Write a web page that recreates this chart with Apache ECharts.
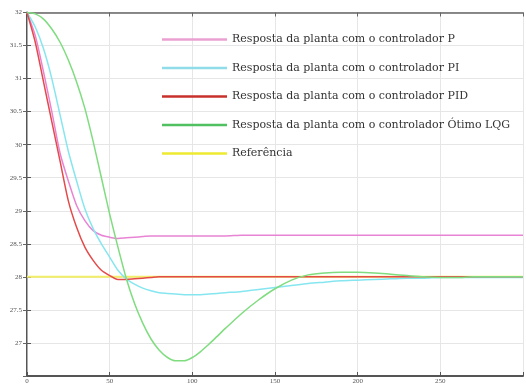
<!DOCTYPE html>
<html>
<head>
<meta charset="utf-8">
<script src="https://cdn.jsdelivr.net/npm/echarts@6/dist/echarts.min.js"></script>
<style>html,body{margin:0;padding:0;background:#fff}#c{width:526px;height:385px}</style>
</head>
<body>
<div id="c"></div>
<script>
const time = [0,5,10,15,20,25,30,35,40,45,50,55,60,65,70,75,80,85,90,95,100,105,110,115,120,130,140,150,160,170,180,190,200,210,220,230,240,250,260,270,280,290,300];
const respP   = [32,31.65,31.1,30.5,29.87,29.45,29.08,28.85,28.7,28.63,28.6,28.58,28.59,28.6,28.61,28.62,28.62,28.62,28.62,28.62,28.62,28.62,28.62,28.62,28.62,28.63,28.63,28.63,28.63,28.63,28.63,28.63,28.63,28.63,28.63,28.63,28.63,28.63,28.63,28.63,28.63,28.63,28.63];
const respPI  = [32,31.78,31.45,31.0,30.45,29.9,29.45,29.03,28.73,28.5,28.3,28.1,27.97,27.89,27.83,27.79,27.76,27.75,27.74,27.73,27.73,27.73,27.74,27.75,27.76,27.78,27.81,27.84,27.87,27.9,27.92,27.94,27.95,27.96,27.97,27.98,27.98,27.99,27.99,27.99,27.99,27.99,27.99];
const respPID = [32,31.55,30.95,30.35,29.75,29.15,28.75,28.45,28.25,28.1,28.02,27.96,27.96,27.97,27.98,27.99,28,28,28,28,28,28,28,28,28,28,28,28,28,28,28,28,28,28,28,28,28,28,28,28,28,28,28];
const respLQG = [32,31.98,31.9,31.75,31.55,31.28,30.95,30.55,30.05,29.5,28.95,28.45,27.98,27.6,27.3,27.06,26.89,26.78,26.73,26.73,26.78,26.87,26.98,27.1,27.22,27.45,27.65,27.82,27.95,28.03,28.06,28.07,28.07,28.06,28.04,28.02,28.0,27.99,27.99,28,28,28,28];
const reference = [28,28,28,28,28,28,28,28,28,28,28,28,28,28,28,28,28,28,28,28,28,28,28,28,28,28,28,28,28,28,28,28,28,28,28,28,28,28,28,28,28,28,28];
const names = ['Resposta da planta com o controlador P','Resposta da planta com o controlador PI','Resposta da planta com o controlador PID','Resposta da planta com o controlador Ótimo LQG','Referência'];
const yTicks = [26.5,27,27.5,28,28.5,29,29.5,30,30.5,31,31.5,32];
const xTicks = [0,50,100,150,200,250,300];

const pair = arr => time.map((t,i)=>[t,arr[i]]);
const colors = ['#e884d4','#86e6f0','#e44a4a','#7fdc7f','#f2ee6a'];
const legendColors = ['#eaa0d0','#90dce8','#c8302c','#50c060','#eeea30'];
const widths = [1.5,1.5,1.5,1.5,2];
const allData = [respP,respPI,respPID,respLQG,reference];
const order = [4,0,1,2,3];

const axisLbl = {fontFamily:'Liberation Serif',fontSize:7,color:'#555'};
const chart = echarts.init(document.getElementById('c'));
chart.setOption({
  animation:false,
  backgroundColor:'#fff',
  grid:{left:27,right:1,top:12.5,bottom:8.5},
  legend:{
    orient:'vertical',left:157,top:29,itemWidth:65,itemHeight:2.5,itemGap:17.5,icon:'rect',
    textStyle:{fontFamily:'DejaVu Serif',fontSize:11,color:'#333'},
    data:names.map((n,i)=>({name:n,itemStyle:{color:legendColors[i]}}))
  },
  xAxis:[{
    type:'value',min:0,max:300,interval:50,
    axisLine:{show:true,lineStyle:{color:'#555',width:2}},
    axisTick:{inside:true,length:4,lineStyle:{color:'#555'}},
    axisLabel:Object.assign({margin:2,formatter:v=>v===300?'':String(v)},axisLbl),
    splitLine:{show:true,lineStyle:{color:'#e6e6e6',width:1}}
  },{
    type:'value',position:'top',min:0,max:300,interval:50,
    axisLine:{show:true,lineStyle:{color:'#666',width:1.5}},
    axisTick:{inside:true,length:4,lineStyle:{color:'#666'}},
    axisLabel:{show:false},splitLine:{show:false}
  }],
  yAxis:[{
    type:'value',min:26.5,max:32,interval:0.5,
    axisLine:{show:true,lineStyle:{color:'#555',width:2}},
    axisTick:{inside:true,length:4,lineStyle:{color:'#555'}},
    axisLabel:Object.assign({margin:5,formatter:v=>v===26.5?'':String(v)},axisLbl),
    splitLine:{show:true,lineStyle:{color:'#e6e6e6',width:1}}
  },{
    type:'value',position:'right',min:26.5,max:32,interval:0.5,
    axisLine:{show:true,lineStyle:{color:'#aaa',width:1}},
    axisTick:{inside:true,length:4,lineStyle:{color:'#666'}},
    axisLabel:{show:false},splitLine:{show:false}
  }],
  series:order.map(i=>({
    name:names[i],type:'line',symbol:'none',smooth:0.25,
    data:pair(allData[i]),
    lineStyle:{color:colors[i],width:widths[i]},
    itemStyle:{color:legendColors[i]}
  }))
});
</script>
</body>
</html>
